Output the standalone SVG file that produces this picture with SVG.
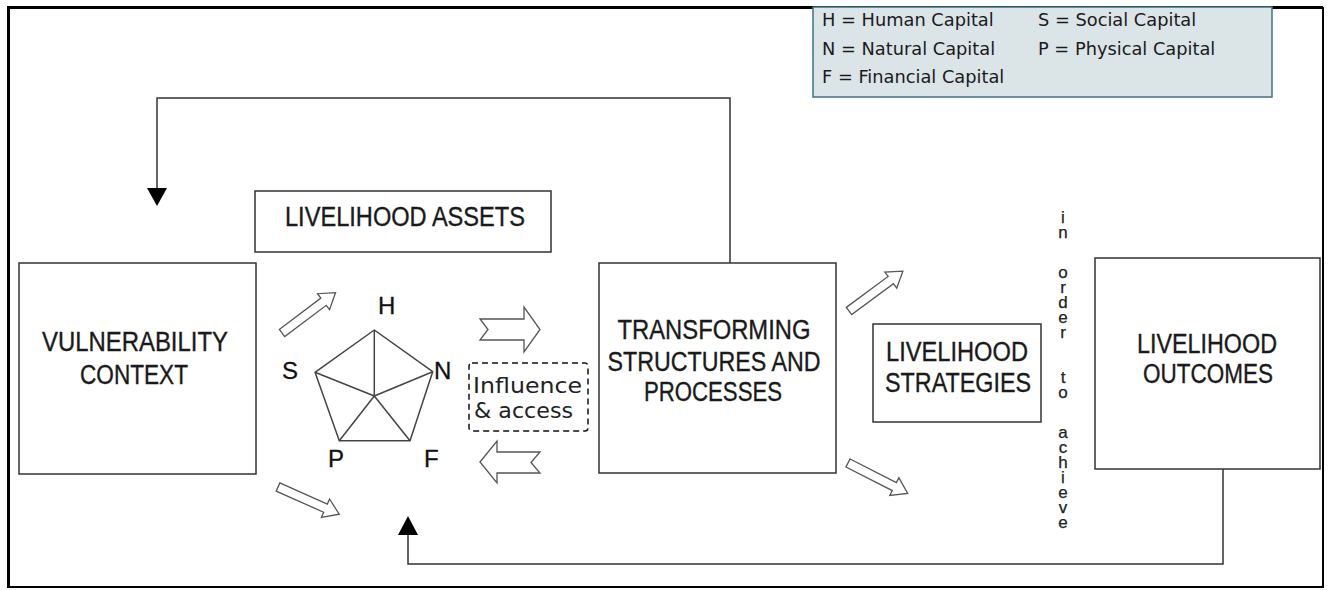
<svg xmlns="http://www.w3.org/2000/svg" width="1329" height="590" viewBox="0 0 1329 590">
<style>
.box{fill:#fff;stroke:#333;stroke-width:1.5}
.lbl{font-family:"Liberation Sans",Arial,sans-serif;font-size:27px;fill:#1a1a1a;stroke:#1a1a1a;stroke-width:0.35;text-anchor:middle}
.leg{font-family:"DejaVu Sans",sans-serif;font-size:17.8px;fill:#1a1a1a}
.cap{font-family:"Liberation Sans",Arial,sans-serif;font-size:24px;fill:#111;stroke:#111;stroke-width:0.3}
.vt{font-family:"Liberation Sans",Arial,sans-serif;font-size:17px;fill:#222;stroke:#222;stroke-width:0.25;writing-mode:vertical-rl;text-orientation:upright;letter-spacing:-4px}
.conn{fill:none;stroke:#333;stroke-width:1.5}
.blk{fill:#fff;stroke:#555;stroke-width:1.3;stroke-linejoin:miter}
.pent{fill:none;stroke:#444;stroke-width:1.5;stroke-linejoin:round}
</style>
<defs>
<polygon id="diag" points="0,-4.5 52,-4.5 52,-10 67,0 52,10 52,4.5 0,4.5"/>
</defs>
<rect x="0" y="0" width="1329" height="590" fill="#fff"/>
<!-- outer frame -->
<path d="M8.5,588 V7.5 H1323" fill="none" stroke="#000" stroke-width="3"/>
<path d="M1323,7 V587 H8" fill="none" stroke="#000" stroke-width="2"/>

<g id="legend">
<rect x="813" y="7" width="459" height="90" fill="#dbe5e8" stroke="#3f7382" stroke-width="1.5"/>
<text class="leg" x="822" y="26">H = Human Capital</text>
<text class="leg" x="1038" y="26">S = Social Capital</text>
<text class="leg" x="822" y="55">N = Natural Capital</text>
<text class="leg" x="1038" y="55">P = Physical Capital</text>
<text class="leg" x="822" y="83">F = Financial Capital</text>
</g>

<g id="connectors">
<path class="conn" d="M730,263 V98 H157 V190"/>
<polygon points="147,188 167,188 157,206" fill="#000"/>
<path class="conn" d="M1223,469 V564 H408 V533"/>
<polygon points="398,535 418,535 408,516" fill="#000"/>
</g>

<g id="vulnerability">
<rect class="box" x="19" y="263" width="237" height="211"/>
<text class="lbl" x="135" y="351" textLength="186" lengthAdjust="spacingAndGlyphs">VULNERABILITY</text>
<text class="lbl" x="134" y="384" textLength="108" lengthAdjust="spacingAndGlyphs">CONTEXT</text>
</g>

<g id="assets">
<rect class="box" x="255" y="191" width="296" height="61"/>
<text class="lbl" x="405" y="226" textLength="240" lengthAdjust="spacingAndGlyphs">LIVELIHOOD  ASSETS</text>
</g>

<g id="pentagon">
<polygon class="pent" points="374.3,330 432.7,371.7 410,440.7 339.3,440.7 315,372.3"/>
<path class="pent" d="M374.3,396 L374.3,330 M374.3,396 L432.7,371.7 M374.3,396 L410,440.7 M374.3,396 L339.3,440.7 M374.3,396 L315,372.3"/>
<text class="cap" x="378" y="314">H</text>
<text class="cap" x="282" y="379">S</text>
<text class="cap" x="434" y="379">N</text>
<text class="cap" x="328" y="467">P</text>
<text class="cap" x="424" y="467">F</text>
</g>

<g id="influence">
<rect x="469" y="363" width="119" height="68" rx="3" fill="none" stroke="#111" stroke-width="1.5" stroke-dasharray="6,4"/>
<text x="473" y="393" font-family="DejaVu Sans,sans-serif" font-size="22" fill="#222" textLength="109" lengthAdjust="spacingAndGlyphs">Influence</text>
<text x="474" y="418" font-family="DejaVu Sans,sans-serif" font-size="22" fill="#222" textLength="99" lengthAdjust="spacingAndGlyphs">&amp; access</text>
</g>

<g id="transforming">
<rect class="box" x="599" y="263" width="237" height="210"/>
<text class="lbl" x="714" y="339" textLength="193" lengthAdjust="spacingAndGlyphs">TRANSFORMING</text>
<text class="lbl" x="714" y="371" textLength="213" lengthAdjust="spacingAndGlyphs">STRUCTURES  AND</text>
<text class="lbl" x="713" y="401" textLength="138" lengthAdjust="spacingAndGlyphs">PROCESSES</text>
</g>

<g id="strategies">
<rect class="box" x="873" y="324" width="168" height="98"/>
<text class="lbl" x="957" y="361" textLength="142" lengthAdjust="spacingAndGlyphs">LIVELIHOOD</text>
<text class="lbl" x="958" y="392" textLength="146" lengthAdjust="spacingAndGlyphs">STRATEGIES</text>
</g>

<g id="outcomes">
<rect class="box" x="1095" y="258" width="225" height="211"/>
<text class="lbl" x="1207" y="353" textLength="140" lengthAdjust="spacingAndGlyphs">LIVELIHOOD</text>
<text class="lbl" x="1208" y="383" textLength="130" lengthAdjust="spacingAndGlyphs">OUTCOMES</text>
</g>

<g id="in-order-to-achieve">
<text class="vt" x="1063" y="208">in</text>
<text class="vt" x="1063" y="263">order</text>
<text class="vt" x="1063" y="368">to</text>
<text class="vt" x="1063" y="423">achieve</text>
</g>

<g id="block-arrows">
<use href="#diag" class="blk" transform="translate(282,333) rotate(-37)"/>
<use href="#diag" class="blk" transform="translate(278,487) rotate(24)"/>
<use href="#diag" class="blk" transform="translate(849,311) rotate(-36.5)"/>
<use href="#diag" class="blk" transform="translate(848,463) rotate(27)"/>
<polygon class="blk" points="480,319 524,319 524,307 540,329.5 524,352 524,340 480,340 488,329.5"/>
<polygon class="blk" points="480,462 497,441 497,452 540,452 531,462.5 540,473 497,473 497,483"/>
</g>
</svg>
